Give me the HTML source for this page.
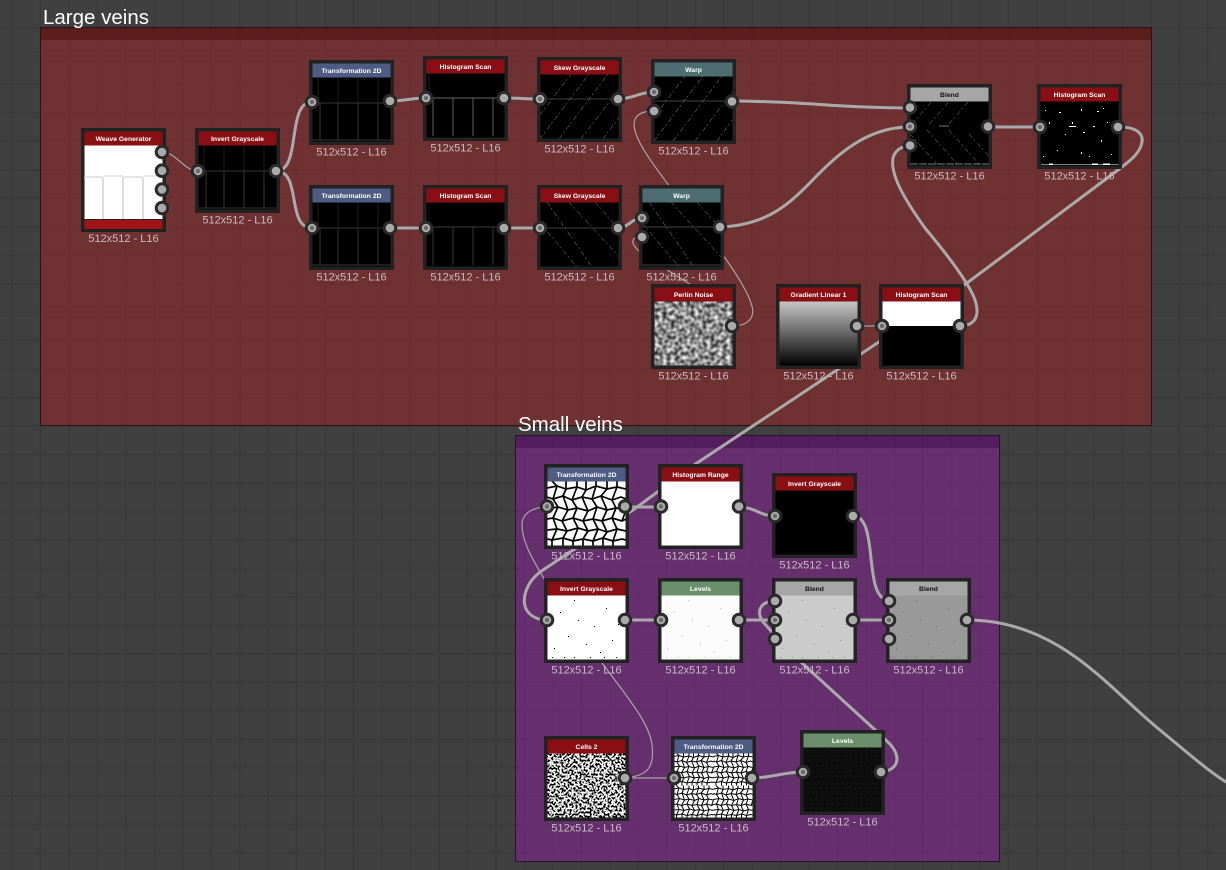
<!DOCTYPE html>
<html><head><meta charset="utf-8"><title>Node graph</title>
<style>
html,body{margin:0;padding:0;background:#404040;width:1226px;height:870px;overflow:hidden}
svg{display:block;font-family:"Liberation Sans",sans-serif}
.w1{fill:none;stroke:#a9a5a5;stroke-width:1.2;stroke-linecap:round}
.w3{fill:none;stroke:#aaa;stroke-width:3;stroke-linecap:round;stroke-linejoin:round}
.h{font-size:6.8px;font-weight:bold;fill:#fff;text-anchor:middle}
.d{fill:#111}
.l{font-size:11px;fill:#c8bcc2;text-anchor:middle}
.t{font-size:20.5px;fill:#fff}
.s{fill:#aaa;stroke:#2a2a2a;stroke-width:3}
.p{fill:#6a6a6a}
</style></head><body>
<svg width="1226" height="870" viewBox="0 0 1226 870" xmlns="http://www.w3.org/2000/svg">
<defs>
<pattern id="grid" x="11" y="-2" width="28.47" height="28.47" patternUnits="userSpaceOnUse">
<rect width="28.47" height="28.47" fill="#404040"/><rect width="2" height="28.47" fill="#3b3b3b"/><rect width="28.47" height="2" fill="#3b3b3b"/>
</pattern>
<clipPath id="ic"><rect x="3" y="17" width="79" height="65"/></clipPath>
<rect id="fr" x="1.75" y="1.75" width="81.5" height="81.5" fill="none" stroke="#222" stroke-width="3.5"/>
<filter id="perlin" x="0" y="0" width="100%" height="100%" color-interpolation-filters="sRGB"><feTurbulence type="fractalNoise" baseFrequency=".25" numOctaves="1" seed="4"/><feColorMatrix values="1.5 0 0 0 -.2 1.5 0 0 0 -.2 1.5 0 0 0 -.2 0 0 0 0 1"/></filter>
<filter id="cells" x="0" y="0" width="100%" height="100%"><feTurbulence type="fractalNoise" baseFrequency=".5" numOctaves="1" seed="7"/><feColorMatrix values="30 0 0 0 -14.2 30 0 0 0 -14.2 30 0 0 0 -14.2 0 0 0 0 1"/></filter>
<linearGradient id="gr" x1="0" y1="0" x2="0" y2="1"><stop offset="0" stop-color="#c8c8c8"/><stop offset="1" stop-color="#000"/></linearGradient>
<g id="mesh" fill="none">
<path d="M3,24L13,22L22,25L33,23L42,26L52,22L63,25L73,23L82,25M3,33L9,35L19,32L28,36L38,33L48,35L57,32L68,36L77,33L82,35M3,45L14,43L24,46L33,44L44,47L53,43L63,46L72,44L82,46M3,55L9,54L18,57L29,54L39,57L49,55L58,57L68,54L78,57L82,55M3,66L13,65L23,67L34,64L44,67L54,65L63,68L73,65L82,67M3,75L8,76L19,74L29,77L39,75L49,77L59,74L69,77L78,75L82,76"/>
<path d="M8,17L13,22M22,17V25M33,17V23M42,17V26M52,17V22M63,17V25M73,17V23M13,22L9,35M22,25L19,32M33,23L28,36M42,26L38,33M52,22L48,35M63,25L57,32M73,23L68,36M9,35L14,43M19,32L24,46M28,36L33,44M38,33L44,47M48,35L53,43M57,32L63,46M68,36L72,44M14,43L9,54M24,46L18,57M33,44L29,54M44,47L39,57M53,43L49,55M63,46L58,57M72,44L68,54M82,46L78,57M9,54L13,65M18,57L23,67M29,54L34,64M39,57L44,67M49,55L54,65M58,57L63,68M68,54L73,65M13,65L8,76M23,67L19,74M34,64L29,77M44,67L39,75M54,65L49,77M63,68L59,74M73,65L69,77M8,76V82M19,74V82M29,77V82M39,75V82M49,77V82M59,74V82M69,77V82"/>
</g>
<g id="fw" fill="none" stroke="#9a9a9a" stroke-width=".5" stroke-dasharray="5 2 2 3">
<path d="M3,58L34,17M3,82L52,17M22,82L71,17M44,82L82,32M66,82L82,60"/>
</g>
<g id="bk" fill="none" stroke="#9a9a9a" stroke-width=".5" stroke-dasharray="5 2 2 3">
<path d="M10,17L55,82M32,17L82,72M58,17L82,44M3,38L40,82"/>
</g>
<g id="t1" fill="none" stroke-width=".8">
<path d="M9,17V42M29,17V42M49,17V42M69,17V42" stroke="#222"/>
<path d="M3,43H82M11,43V80M29,43V80M49,43V80M69,43V80M3,80H82" stroke="#444"/>
</g>
<g id="t2" fill="none" stroke="#888" stroke-width=".7">
<path d="M3,42H82M10,42V80M30,42V80M50,42V80M70,42V80"/>
<path d="M6,17V42" stroke="#333"/>
</g>
<g id="dotsk" fill="#000">
<rect x="16" y="34" width="1" height="1"/><rect x="30" y="22" width="1" height="1"/><rect x="50" y="48" width="1" height="1"/><rect x="62" y="30" width="1" height="1"/><rect x="24" y="58" width="1" height="1"/><rect x="42" y="66" width="1" height="1"/><rect x="68" y="62" width="1" height="1"/><rect x="10" y="70" width="1" height="1"/><rect x="56" y="74" width="1" height="1"/><rect x="34" y="42" width="1" height="1"/><rect x="74" y="46" width="1" height="1"/><rect x="20" y="79" width="1" height="1"/><rect x="30" y="79" width="1" height="1"/><rect x="46" y="79" width="1" height="1"/><rect x="60" y="79" width="1" height="1"/><rect x="8" y="79" width="1" height="1"/><rect x="72" y="79" width="1" height="1"/>
</g>
</defs>

<rect width="1226" height="870" fill="url(#grid)"/>

<!-- frames -->
<rect x="41" y="27" width="1111" height="399" fill="#9d2121" fill-opacity=".5"/>
<rect x="41" y="27" width="1111" height="13" fill="#4c0c0c" fill-opacity=".55"/>
<rect x="40.5" y="27.5" width="1111" height="398" fill="none" stroke="#2c1414"/>
<rect x="516" y="435" width="484" height="427" fill="#8b1f9d" fill-opacity=".5"/>
<rect x="516" y="435" width="484" height="13" fill="#3d0c4c" fill-opacity=".5"/>
<rect x="515.5" y="435.5" width="484" height="426" fill="none" stroke="#2a142c"/>
<text class="t" x="43" y="24">Large veins</text>
<text class="t" x="518" y="431">Small veins</text>

<!-- wires -->
<path class="w1" d="M162,152C176,152 184,171 198,171"/>
<path class="w3" d="M276,171C302,171 286,102 312,102"/>
<path class="w3" d="M276,171C302,171 286,228 312,228"/>
<path class="w3" d="M390,101C405,101 411,98 426,98"/>
<path class="w3" d="M390,228H426"/>
<path class="w3" d="M504,98C518,98 526,99 540,99"/>
<path class="w3" d="M504,228H540"/>
<path class="w3" d="M618,99C632,99 640,92 654,92"/>
<path class="w3" d="M618,228C628,228 632,218 642,218"/>
<path class="w3" d="M732,101C800,101 840,108 910,108"/>
<path class="w3" d="M720,227C780,225 800,190 830,163C855,140 880,127 910,127"/>
<path class="w3" d="M988,127H1040"/>
<path class="w1" d="M857,326H881" stroke-width="2"/>
<path class="w3" d="M959,326C976,326 980,315 975,300C970,285 950,258 925,228C905,200 890,175 893,158C895,150 902,146 910,146"/>
<path class="w3" d="M1119,127C1134,127 1146,132 1141,146C1137,156 1128,162 1122,167L967,283L807,390L697,463L633,510L543,570C525,582 520,602 528,612C533,618 540,620 547,620"/>
<path class="w1" d="M732,326C748,326 755,318 752,306C748,292 735,272 725,258L667,183C650,160 635,140 634,125C634,115 642,111 654,111"/>
<path class="w1" d="M732,326C722,305 700,290 680,278C660,265 635,252 633,243C632,238 636,237 642,237"/>
<path class="w3" d="M625,507H661"/>
<path class="w3" d="M739,507C755,507 760,516 775,516"/>
<path class="w3" d="M853,516C880,516 862,600 889,600"/>
<path class="w3" d="M625,620H661"/>
<path class="w3" d="M739,620H775"/>
<path class="w3" d="M853,620H889"/>
<path class="w3" d="M967,620C1060,620 1110,690 1160,730C1190,755 1210,772 1226,782"/>
<path class="w1" d="M625,778C645,776 655,770 652,745C650,725 630,700 602,663L543,577C530,555 522,540 522,525C522,512 535,507 547,507"/>
<path class="w1" d="M625,778H674"/>
<path class="w3" d="M752,778C770,778 785,772 803,772"/>
<path class="w3" d="M881,772C898,770 902,758 890,744L873,728L802,663C785,648 775,635 763,622C755,610 762,601 775,601"/>

<!-- nodes: Large veins -->
<g transform="translate(81,128)"><rect width="85" height="104" fill="#222"/><rect x="3.5" y="17" width="78" height="74" fill="#fff"/><path d="M3,49H22M23,48H42M43,49H62M63,48H82" stroke="#ccc" fill="none"/><path d="M22,49V91M42,49V91M62,49V91" stroke="#bbb" fill="none"/><rect x="3.5" y="3.500" width="78" height="14" fill="#8a0f14"/><rect x="3.500" y="92" width="78" height="9" fill="#a01418"/><text class="h" x="42.5" y="13">Weave Generator</text><circle class="s" cx="81" cy="24" r="5.800"/><circle class="s" cx="81" cy="42.700" r="5.800"/><circle class="s" cx="81" cy="61.500" r="5.800"/><circle class="s" cx="81" cy="80" r="5.800"/><text class="l" x="42.500" y="114">512x512 - L16</text></g>

<g transform="translate(195,128)"><rect width="85" height="85" fill="#000"/><use href="#t1"/><rect x="3" y="3" width="79" height="14.500" fill="#8a0f14"/><text class="h" x="42.5" y="13">Invert Grayscale</text><use href="#fr"/><circle class="s" cx="3" cy="43" r="5.800"/><circle class="p" cx="3" cy="43" r="2.200"/><circle class="s" cx="81" cy="43" r="5.800"/><text class="l" x="42.500" y="95.500">512x512 - L16</text></g>

<g transform="translate(309,60)"><rect width="85" height="85" fill="#000"/><use href="#t1"/><rect x="3" y="3" width="79" height="14.500" fill="#4e5b82"/><text class="h" x="42.5" y="13">Transformation 2D</text><use href="#fr"/><circle class="s" cx="3" cy="42" r="5.800"/><circle class="p" cx="3" cy="42" r="2.200"/><circle class="s" cx="81" cy="41" r="5.800"/><text class="l" x="42.500" y="95.500">512x512 - L16</text></g>

<g transform="translate(309,185)"><rect width="85" height="85" fill="#000"/><use href="#t1"/><rect x="3" y="3" width="79" height="14.500" fill="#4e5b82"/><text class="h" x="42.5" y="13">Transformation 2D</text><use href="#fr"/><circle class="s" cx="3" cy="43" r="5.800"/><circle class="p" cx="3" cy="43" r="2.200"/><circle class="s" cx="81" cy="43" r="5.800"/><text class="l" x="42.500" y="95.500">512x512 - L16</text></g>

<g transform="translate(423,56)"><rect width="85" height="85" fill="#000"/><use href="#t2"/><rect x="3" y="3" width="79" height="14.500" fill="#8a0f14"/><text class="h" x="42.5" y="13">Histogram Scan</text><use href="#fr"/><circle class="s" cx="3" cy="42" r="5.800"/><circle class="p" cx="3" cy="42" r="2.200"/><circle class="s" cx="81" cy="42" r="5.800"/><text class="l" x="42.500" y="95.500">512x512 - L16</text></g>

<g transform="translate(423,185)"><rect width="85" height="85" fill="#000"/><use href="#t2" opacity=".6"/><rect x="3" y="3" width="79" height="14.500" fill="#8a0f14"/><text class="h" x="42.5" y="13">Histogram Scan</text><use href="#fr"/><circle class="s" cx="3" cy="43" r="5.800"/><circle class="p" cx="3" cy="43" r="2.200"/><circle class="s" cx="81" cy="43" r="5.800"/><text class="l" x="42.500" y="95.500">512x512 - L16</text></g>

<g transform="translate(537,57)"><rect width="85" height="85" fill="#000"/><g clip-path="url(#ic)"><use href="#fw"/></g><path d="M3,42H82" stroke="#777" stroke-width=".6"/><rect x="3" y="3" width="79" height="14.500" fill="#8a0f14"/><text class="h" x="42.5" y="13">Skew Grayscale</text><use href="#fr"/><circle class="s" cx="3" cy="42" r="5.800"/><circle class="p" cx="3" cy="42" r="2.200"/><circle class="s" cx="81" cy="42" r="5.800"/><text class="l" x="42.500" y="95.500">512x512 - L16</text></g>

<g transform="translate(537,185)"><rect width="85" height="85" fill="#000"/><g clip-path="url(#ic)"><use href="#bk"/></g><path d="M3,43H82" stroke="#777" stroke-width=".6"/><rect x="3" y="3" width="79" height="14.500" fill="#8a0f14"/><text class="h" x="42.5" y="13">Skew Grayscale</text><use href="#fr"/><circle class="s" cx="3" cy="43" r="5.800"/><circle class="p" cx="3" cy="43" r="2.200"/><circle class="s" cx="81" cy="43" r="5.800"/><text class="l" x="42.500" y="95.500">512x512 - L16</text></g>

<g transform="translate(651,59)"><rect width="85" height="85" fill="#000"/><g clip-path="url(#ic)"><use href="#fw"/></g><path d="M3,42H82" stroke="#888" stroke-width=".6"/><rect x="3" y="3" width="79" height="14.500" fill="#4d6d72"/><text class="h" x="42.5" y="13">Warp</text><use href="#fr"/><circle class="s" cx="3" cy="33" r="5.800"/><circle class="p" cx="3" cy="33" r="2.200"/><circle class="s" cx="3" cy="52" r="5.800"/><circle class="s" cx="81" cy="42.500" r="5.800"/><text class="l" x="42.500" y="95.500">512x512 - L16</text></g>

<g transform="translate(639,185)"><rect width="85" height="85" fill="#000"/><g clip-path="url(#ic)"><use href="#bk"/></g><path d="M3,42H82M3,80H82" stroke="#888" stroke-width=".6"/><rect x="3" y="3" width="79" height="14.500" fill="#4d6d72"/><text class="h" x="42.5" y="13">Warp</text><use href="#fr"/><circle class="s" cx="3" cy="33" r="5.800"/><circle class="p" cx="3" cy="33" r="2.200"/><circle class="s" cx="3" cy="52" r="5.800"/><circle class="s" cx="81" cy="42" r="5.800"/><text class="l" x="42.500" y="95.500">512x512 - L16</text></g>

<g transform="translate(651,284)"><rect width="85" height="85" fill="#222"/><rect x="3" y="17" width="79" height="65" fill="#888" filter="url(#perlin)"/><rect x="3" y="3" width="79" height="14.500" fill="#8a0f14"/><text class="h" x="42.5" y="13">Perlin Noise</text><use href="#fr"/><circle class="s" cx="81" cy="42" r="5.800"/><text class="l" x="42.500" y="95.500">512x512 - L16</text></g>

<g transform="translate(776,284)"><rect width="85" height="85" fill="#222"/><rect x="3" y="17" width="79" height="65" fill="url(#gr)"/><rect x="3" y="3" width="79" height="14.500" fill="#8a0f14"/><text class="h" x="42.5" y="13">Gradient Linear 1</text><use href="#fr"/><circle class="s" cx="81" cy="42" r="5.800"/><text class="l" x="42.500" y="95.500">512x512 - L16</text></g>

<g transform="translate(879,284)"><rect width="85" height="85" fill="#000"/><rect x="3" y="17" width="79" height="25" fill="#fff"/><rect x="3" y="3" width="79" height="14.500" fill="#8a0f14"/><text class="h" x="42.5" y="13">Histogram Scan</text><use href="#fr"/><circle class="s" cx="3" cy="42" r="5.800"/><circle class="p" cx="3" cy="42" r="2.200"/><circle class="s" cx="81" cy="42" r="5.800"/><text class="l" x="42.500" y="95.500">512x512 - L16</text></g>

<g transform="translate(907,84)"><rect width="85" height="85" fill="#000"/><g clip-path="url(#ic)"><path d="M5,40L25,17M22,40L43,17M42,40L62,17" fill="none" stroke="#999" stroke-width=".5" stroke-dasharray="5 2 2 3"/><path d="M3,50L30,80M20,46L50,80M42,46L72,80M62,50L82,72" fill="none" stroke="#999" stroke-width=".5" stroke-dasharray="5 2 2 3"/></g><path d="M32,42H42" stroke="#aaa" stroke-width=".7"/><path d="M3,80H82" stroke="#aaa" stroke-width=".7" stroke-dasharray="8 1"/><rect x="3" y="3" width="79" height="14.500" fill="#a6a6a6"/><text class="h d" x="42.5" y="13">Blend</text><use href="#fr"/><circle class="s" cx="3" cy="23.500" r="5.800"/><circle class="s" cx="3" cy="42.500" r="5.800"/><circle class="p" cx="3" cy="42.500" r="2.200"/><circle class="s" cx="3" cy="61.500" r="5.800"/><circle class="s" cx="81" cy="42.500" r="5.800"/><text class="l" x="42.500" y="95.500">512x512 - L16</text></g>

<g transform="translate(1037,84)"><rect width="85" height="85" fill="#000"/><g fill="#fff"><rect x="8" y="26" width="1" height="1"/><rect x="22" y="28" width="2" height="1"/><rect x="44" y="25" width="1" height="2"/><rect x="60" y="27" width="2" height="1"/><rect x="66" y="24" width="1" height="1"/><rect x="12" y="38" width="1" height="2"/><rect x="32" y="42" width="7" height="1"/><rect x="35" y="38" width="1" height="2"/><rect x="56" y="42" width="2" height="1"/><rect x="70" y="38" width="1" height="1"/><rect x="28" y="50" width="1" height="1"/><rect x="46" y="48" width="2" height="1"/><rect x="64" y="56" width="1" height="2"/><rect x="20" y="66" width="1" height="1"/><rect x="44" y="68" width="1" height="2"/><rect x="6" y="72" width="1" height="1"/><rect x="52" y="72" width="1" height="1"/><rect x="74" y="70" width="1" height="1"/><rect x="4" y="80" width="78" height="1" opacity=".5"/><rect x="55" y="79.500" width="6" height="1.500"/><rect x="66" y="79.500" width="7" height="1.500"/><rect x="12" y="79.500" width="4" height="1.500"/></g><rect x="3" y="3" width="79" height="14.500" fill="#8a0f14"/><text class="h" x="42.5" y="13">Histogram Scan</text><use href="#fr"/><circle class="s" cx="3" cy="43" r="5.800"/><circle class="p" cx="3" cy="43" r="2.200"/><circle class="s" cx="81" cy="43" r="5.800"/><text class="l" x="42.500" y="95.500">512x512 - L16</text></g>

<!-- nodes: Small veins -->
<g transform="translate(544,464)"><rect width="85" height="85" fill="#fff"/><g clip-path="url(#ic)"><use href="#mesh" stroke="#000" stroke-width="1.7"/></g><rect x="3" y="3" width="79" height="14.500" fill="#4e5b82"/><text class="h" x="42.5" y="13">Transformation 2D</text><use href="#fr"/><circle class="s" cx="3" cy="42.500" r="5.800"/><circle class="p" cx="3" cy="42.500" r="2.200"/><circle class="s" cx="81" cy="42.500" r="5.800"/><text class="l" x="42.500" y="95.500">512x512 - L16</text></g>

<g transform="translate(658,464)"><rect width="85" height="85" fill="#fff"/><rect x="3" y="3" width="79" height="14.500" fill="#8a0f14"/><text class="h" x="42.5" y="13">Histogram Range</text><use href="#fr"/><circle class="s" cx="3" cy="42.500" r="5.800"/><circle class="p" cx="3" cy="42.500" r="2.200"/><circle class="s" cx="81" cy="42.500" r="5.800"/><text class="l" x="42.500" y="95.500">512x512 - L16</text></g>

<g transform="translate(772,473)"><rect width="85" height="85" fill="#000"/><rect x="3" y="3" width="79" height="14.500" fill="#8a0f14"/><text class="h" x="42.5" y="13">Invert Grayscale</text><use href="#fr"/><circle class="s" cx="3" cy="43" r="5.800"/><circle class="p" cx="3" cy="43" r="2.200"/><circle class="s" cx="81" cy="43" r="5.800"/><text class="l" x="42.500" y="95.500">512x512 - L16</text></g>

<g transform="translate(544,578)"><rect width="85" height="85" fill="#fff"/><use href="#dotsk"/><rect x="3" y="3" width="79" height="14.500" fill="#8a0f14"/><text class="h" x="42.5" y="13">Invert Grayscale</text><use href="#fr"/><circle class="s" cx="3" cy="42" r="5.800"/><circle class="p" cx="3" cy="42" r="2.200"/><circle class="s" cx="81" cy="42" r="5.800"/><text class="l" x="42.500" y="95.500">512x512 - L16</text></g>

<g transform="translate(658,578)"><rect width="85" height="85" fill="#fcfcfc"/><use href="#dotsk" opacity=".25"/><rect x="3" y="3" width="79" height="14.500" fill="#6a8f6a"/><text class="h" x="42.5" y="13">Levels</text><use href="#fr"/><circle class="s" cx="3" cy="42" r="5.800"/><circle class="p" cx="3" cy="42" r="2.200"/><circle class="s" cx="81" cy="42" r="5.800"/><text class="l" x="42.500" y="95.500">512x512 - L16</text></g>

<g transform="translate(772,578)"><rect width="85" height="85" fill="#cbcbcb"/><use href="#dotsk" opacity=".3"/><rect x="3" y="3" width="79" height="14.500" fill="#a6a6a6"/><text class="h d" x="42.5" y="13">Blend</text><use href="#fr"/><circle class="s" cx="3" cy="23" r="5.800"/><circle class="s" cx="3" cy="42" r="5.800"/><circle class="p" cx="3" cy="42" r="2.200"/><circle class="s" cx="3" cy="61" r="5.800"/><circle class="s" cx="81" cy="42" r="5.800"/><text class="l" x="42.500" y="95.500">512x512 - L16</text></g>

<g transform="translate(886,578)"><rect width="85" height="85" fill="#999"/><use href="#dotsk" opacity=".3"/><rect x="3" y="3" width="79" height="14.500" fill="#a6a6a6"/><text class="h d" x="42.5" y="13">Blend</text><use href="#fr"/><circle class="s" cx="3" cy="23" r="5.800"/><circle class="s" cx="3" cy="42" r="5.800"/><circle class="p" cx="3" cy="42" r="2.200"/><circle class="s" cx="3" cy="61" r="5.800"/><circle class="s" cx="81" cy="42" r="5.800"/><text class="l" x="42.500" y="95.500">512x512 - L16</text></g>

<g transform="translate(544,736)"><rect width="85" height="85" fill="#222"/><rect x="3" y="17" width="79" height="65" fill="#fff" filter="url(#cells)"/><rect x="3" y="3" width="79" height="14.500" fill="#8a0f14"/><text class="h" x="42.5" y="13">Cells 2</text><use href="#fr"/><circle class="s" cx="81" cy="42" r="5.800"/><text class="l" x="42.500" y="95.500">512x512 - L16</text></g>

<g transform="translate(671,736)"><rect width="85" height="85" fill="#fff"/><g clip-path="url(#ic)" stroke="#000" stroke-width="2"><use href="#mesh" transform="translate(1.5,8.5) scale(.5)"/><use href="#mesh" transform="translate(41,8.5) scale(.5)"/><use href="#mesh" transform="translate(1.5,41) scale(.5)"/><use href="#mesh" transform="translate(41,41) scale(.5)"/></g><rect x="3" y="3" width="79" height="14.500" fill="#4e5b82"/><text class="h" x="42.5" y="13">Transformation 2D</text><use href="#fr"/><circle class="s" cx="3" cy="42" r="5.800"/><circle class="p" cx="3" cy="42" r="2.200"/><circle class="s" cx="81" cy="42" r="5.800"/><text class="l" x="42.500" y="95.500">512x512 - L16</text></g>

<g transform="translate(800,730)"><rect width="85" height="85" fill="#0b0b0b"/><g clip-path="url(#ic)" stroke="#181818" stroke-width="1"><use href="#mesh" transform="translate(1.5,8.5) scale(.5)"/><use href="#mesh" transform="translate(41,8.5) scale(.5)"/><use href="#mesh" transform="translate(1.5,41) scale(.5)"/><use href="#mesh" transform="translate(41,41) scale(.5)"/></g><rect x="3" y="3" width="79" height="14.500" fill="#6a8f6a"/><text class="h" x="42.5" y="13">Levels</text><use href="#fr"/><circle class="s" cx="3" cy="42" r="5.800"/><circle class="p" cx="3" cy="42" r="2.200"/><circle class="s" cx="81" cy="42" r="5.800"/><text class="l" x="42.500" y="95.500">512x512 - L16</text></g>
</svg>
</body></html>
